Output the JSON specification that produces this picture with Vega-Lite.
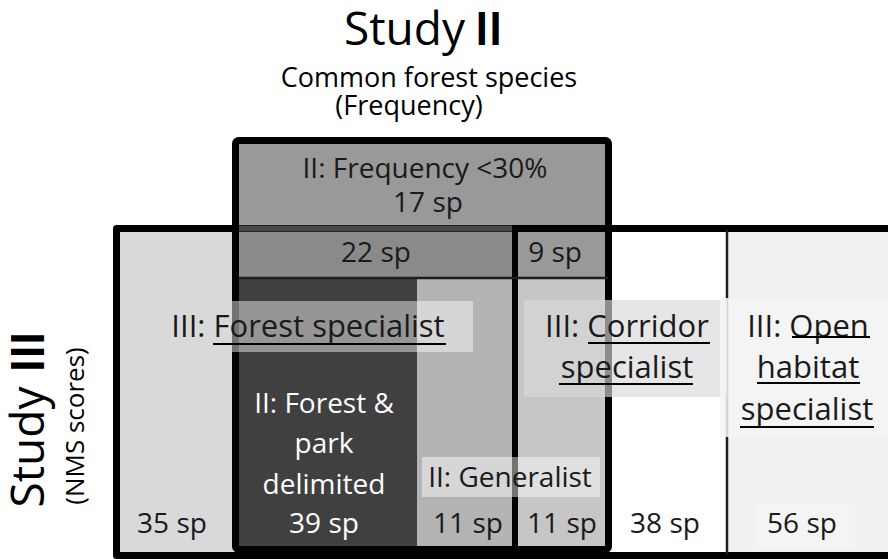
{
  "$schema": "https://vega.github.io/schema/vega-lite/v6.json",
  "width": 888,
  "height": 559,
  "padding": 0,
  "autosize": "none",
  "background": "white",
  "config": {"view": {"stroke": null}, "text": {"font": "Open Sans", "baseline": "alphabetic"}},
  "datasets": {
    "areas": [
      {"region": "III forest specialist", "x0": 117, "x1": 515, "y0": 229, "y1": 555},
      {"region": "III corridor specialist", "x0": 515, "x1": 727, "y0": 229, "y1": 555},
      {"region": "III open habitat specialist", "x0": 727, "x1": 888, "y0": 229, "y1": 555},
      {"region": "II frequency <30% only", "x0": 235, "x1": 608, "y0": 140, "y1": 229},
      {"region": "II frequency <30% x III forest", "x0": 238, "x1": 515, "y0": 229, "y1": 278},
      {"region": "II frequency <30% x III corridor", "x0": 515, "x1": 608, "y0": 229, "y1": 278},
      {"region": "II forest & park delimited", "x0": 238, "x1": 417, "y0": 278, "y1": 550},
      {"region": "II generalist x III forest", "x0": 417, "x1": 515, "y0": 278, "y1": 550},
      {"region": "II generalist x III corridor", "x0": 515, "x1": 608, "y0": 278, "y1": 550}
    ],
    "frames": [
      {"frame": "Study III", "x0": 116.5, "x1": 900, "y0": 228.5, "y1": 555.5}
    ],
    "frames2": [
      {"frame": "Study II", "x0": 235.5, "x1": 608.5, "y0": 140.5, "y1": 549.5}
    ],
    "graytop": [
      {"x0": 239, "x1": 512, "y0": 228.5, "y1": 228.5}
    ],
    "thicklines": [
      {"x0": 515, "x1": 515, "y0": 226, "y1": 556}
    ],
    "thinlines": [
      {"x0": 238, "x1": 608, "y0": 278, "y1": 278},
      {"x0": 727, "x1": 727, "y0": 230, "y1": 554}
    ],
    "whiteboxes": [
      {"box": "forest label", "x0": 232, "x1": 473, "y0": 301, "y1": 352},
      {"box": "generalist label", "x0": 422, "x1": 600, "y0": 457, "y1": 497}
    ],
    "grayboxes": [
      {"box": "corridor label", "x0": 524, "x1": 727, "y0": 300, "y1": 397}
    ],
    "lightboxes": [
      {"box": "open label", "x0": 720, "x1": 888, "y0": 298, "y1": 437},
      {"box": "56 label", "x0": 755, "x1": 855, "y0": 503, "y1": 548}
    ],
    "underlines": [
      {"x0": 213, "x1": 446, "y0": 344, "y1": 344},
      {"x0": 588, "x1": 710, "y0": 343, "y1": 343},
      {"x0": 559, "x1": 693, "y0": 384, "y1": 384},
      {"x0": 792, "x1": 870, "y0": 337, "y1": 337},
      {"x0": 757, "x1": 860, "y0": 383, "y1": 383},
      {"x0": 740, "x1": 874, "y0": 427, "y1": 427}
    ],
    "labels": [
      {"text": "II: Frequency <30%", "x": 425, "y": 178},
      {"text": "17 sp", "x": 428, "y": 212},
      {"text": "22 sp", "x": 376, "y": 262},
      {"text": "9 sp", "x": 555, "y": 262},
      {"text": "II: Generalist", "x": 510, "y": 487},
      {"text": "35 sp", "x": 172, "y": 533},
      {"text": "11 sp", "x": 468, "y": 533},
      {"text": "11 sp", "x": 562, "y": 533},
      {"text": "38 sp", "x": 665, "y": 533},
      {"text": "56 sp", "x": 802, "y": 533}
    ],
    "grouplabels": [
      {"text": "III: Forest specialist", "x": 308, "y": 337},
      {"text": "III: Corridor", "x": 627, "y": 337},
      {"text": "specialist", "x": 627, "y": 378},
      {"text": "III: Open", "x": 808, "y": 337},
      {"text": "habitat", "x": 808, "y": 378},
      {"text": "specialist", "x": 807, "y": 420}
    ],
    "whitelabels": [
      {"text": "II: Forest &", "x": 324, "y": 413},
      {"text": "park", "x": 324, "y": 453},
      {"text": "delimited", "x": 324, "y": 494},
      {"text": "39 sp", "x": 324, "y": 533}
    ],
    "subtitle": [
      {"text": "Common forest species", "x": 429, "y": 87},
      {"text": "(Frequency)", "x": 409, "y": 115}
    ]
  },
  "layer": [
    {
      "data": {"name": "areas"},
      "mark": {"type": "rect"},
      "encoding": {
        "x": {"field": "x0", "type": "quantitative", "scale": {"domain": [0, 888], "nice": false, "zero": false}, "axis": null},
        "x2": {"field": "x1"},
        "y": {"field": "y0", "type": "quantitative", "scale": {"domain": [0, 559], "nice": false, "zero": false, "reverse": true}, "axis": null},
        "y2": {"field": "y1"},
        "color": {
          "field": "region", "type": "nominal", "legend": null,
          "scale": {
            "domain": ["III forest specialist", "III corridor specialist", "III open habitat specialist", "II frequency <30% only", "II frequency <30% x III forest", "II frequency <30% x III corridor", "II forest & park delimited", "II generalist x III forest", "II generalist x III corridor"],
            "range": ["#d9d9d9", "#ffffff", "#f1f1f1", "#999999", "#8a8a8a", "#999999", "#404040", "#b4b4b4", "#c6c6c6"]
          }
        }
      }
    },
    {
      "data": {"name": "frames"},
      "mark": {"type": "rect", "fill": null, "stroke": "#000000", "strokeWidth": 7, "strokeJoin": "round"},
      "encoding": {
        "x": {"field": "x0", "type": "quantitative"},
        "x2": {"field": "x1"},
        "y": {"field": "y0", "type": "quantitative"},
        "y2": {"field": "y1"}
      }
    },
    {
      "data": {"name": "graytop"},
      "mark": {"type": "rule", "stroke": "#474747", "strokeWidth": 6},
      "encoding": {
        "x": {"field": "x0", "type": "quantitative"},
        "x2": {"field": "x1"},
        "y": {"field": "y0", "type": "quantitative"},
        "y2": {"field": "y1"}
      }
    },
    {
      "data": {"name": "frames2"},
      "mark": {"type": "rect", "fill": null, "stroke": "#000000", "strokeWidth": 7, "cornerRadius": 3, "strokeJoin": "round"},
      "encoding": {
        "x": {"field": "x0", "type": "quantitative"},
        "x2": {"field": "x1"},
        "y": {"field": "y0", "type": "quantitative"},
        "y2": {"field": "y1"}
      }
    },
    {
      "data": {"name": "thicklines"},
      "mark": {"type": "rule", "stroke": "#000000", "strokeWidth": 6},
      "encoding": {
        "x": {"field": "x0", "type": "quantitative"},
        "x2": {"field": "x1"},
        "y": {"field": "y0", "type": "quantitative"},
        "y2": {"field": "y1"}
      }
    },
    {
      "data": {"name": "thinlines"},
      "mark": {"type": "rule", "stroke": "#1e1e1e", "strokeWidth": 2.5},
      "encoding": {
        "x": {"field": "x0", "type": "quantitative"},
        "x2": {"field": "x1"},
        "y": {"field": "y0", "type": "quantitative"},
        "y2": {"field": "y1"}
      }
    },
    {
      "data": {"name": "whiteboxes"},
      "mark": {"type": "rect", "fill": "#ffffff", "fillOpacity": 0.45},
      "encoding": {
        "x": {"field": "x0", "type": "quantitative"},
        "x2": {"field": "x1"},
        "y": {"field": "y0", "type": "quantitative"},
        "y2": {"field": "y1"}
      }
    },
    {
      "data": {"name": "grayboxes"},
      "mark": {"type": "rect", "fill": "#d9d9d9", "fillOpacity": 0.65},
      "encoding": {
        "x": {"field": "x0", "type": "quantitative"},
        "x2": {"field": "x1"},
        "y": {"field": "y0", "type": "quantitative"},
        "y2": {"field": "y1"}
      }
    },
    {
      "data": {"name": "lightboxes"},
      "mark": {"type": "rect", "fill": "#f4f4f4", "fillOpacity": 0.85},
      "encoding": {
        "x": {"field": "x0", "type": "quantitative"},
        "x2": {"field": "x1"},
        "y": {"field": "y0", "type": "quantitative"},
        "y2": {"field": "y1"}
      }
    },
    {
      "data": {"name": "labels"},
      "mark": {"type": "text", "fontSize": 28, "color": "#1a1a1a", "align": "center"},
      "encoding": {
        "x": {"field": "x", "type": "quantitative"},
        "y": {"field": "y", "type": "quantitative"},
        "text": {"field": "text"}
      }
    },
    {
      "data": {"name": "grouplabels"},
      "mark": {"type": "text", "fontSize": 31, "color": "#1a1a1a", "align": "center"},
      "encoding": {
        "x": {"field": "x", "type": "quantitative"},
        "y": {"field": "y", "type": "quantitative"},
        "text": {"field": "text"}
      }
    },
    {
      "data": {"name": "whitelabels"},
      "mark": {"type": "text", "fontSize": 28, "color": "#ffffff", "align": "center"},
      "encoding": {
        "x": {"field": "x", "type": "quantitative"},
        "y": {"field": "y", "type": "quantitative"},
        "text": {"field": "text"}
      }
    },
    {
      "data": {"name": "subtitle"},
      "mark": {"type": "text", "fontSize": 27, "color": "#000000", "align": "center"},
      "encoding": {
        "x": {"field": "x", "type": "quantitative"},
        "y": {"field": "y", "type": "quantitative"},
        "text": {"field": "text"}
      }
    },
    {
      "data": {"values": [{"text": "Study", "x": 465, "y": 45}]},
      "mark": {"type": "text", "fontSize": 46, "color": "#000000", "align": "right"},
      "encoding": {
        "x": {"field": "x", "type": "quantitative"},
        "y": {"field": "y", "type": "quantitative"},
        "text": {"field": "text"}
      }
    },
    {
      "data": {"values": [{"text": "II", "x": 475, "y": 45}]},
      "mark": {"type": "text", "font": "Lato", "fontSize": 46, "fontWeight": "bold", "color": "#000000", "align": "left"},
      "encoding": {
        "x": {"field": "x", "type": "quantitative"},
        "y": {"field": "y", "type": "quantitative"},
        "text": {"field": "text"}
      }
    },
    {
      "data": {"values": [{"text": "Study", "x": 44, "y": 447}]},
      "mark": {"type": "text", "fontSize": 46, "color": "#000000", "align": "center", "angle": 270},
      "encoding": {
        "x": {"field": "x", "type": "quantitative"},
        "y": {"field": "y", "type": "quantitative"},
        "text": {"field": "text"}
      }
    },
    {
      "data": {"values": [{"text": "III", "x": 44, "y": 352}]},
      "mark": {"type": "text", "font": "Lato", "fontSize": 46, "fontWeight": "bold", "color": "#000000", "align": "center", "angle": 270},
      "encoding": {
        "x": {"field": "x", "type": "quantitative"},
        "y": {"field": "y", "type": "quantitative"},
        "text": {"field": "text"}
      }
    },
    {
      "data": {"values": [{"text": "(NMS scores)", "x": 84, "y": 426}]},
      "mark": {"type": "text", "fontSize": 26, "color": "#000000", "align": "center", "angle": 270},
      "encoding": {
        "x": {"field": "x", "type": "quantitative"},
        "y": {"field": "y", "type": "quantitative"},
        "text": {"field": "text"}
      }
    },
    {
      "data": {"name": "underlines"},
      "mark": {"type": "rule", "stroke": "#000000", "strokeWidth": 2},
      "encoding": {
        "x": {"field": "x0", "type": "quantitative"},
        "x2": {"field": "x1"},
        "y": {"field": "y0", "type": "quantitative"},
        "y2": {"field": "y1"}
      }
    }
  ]
}
